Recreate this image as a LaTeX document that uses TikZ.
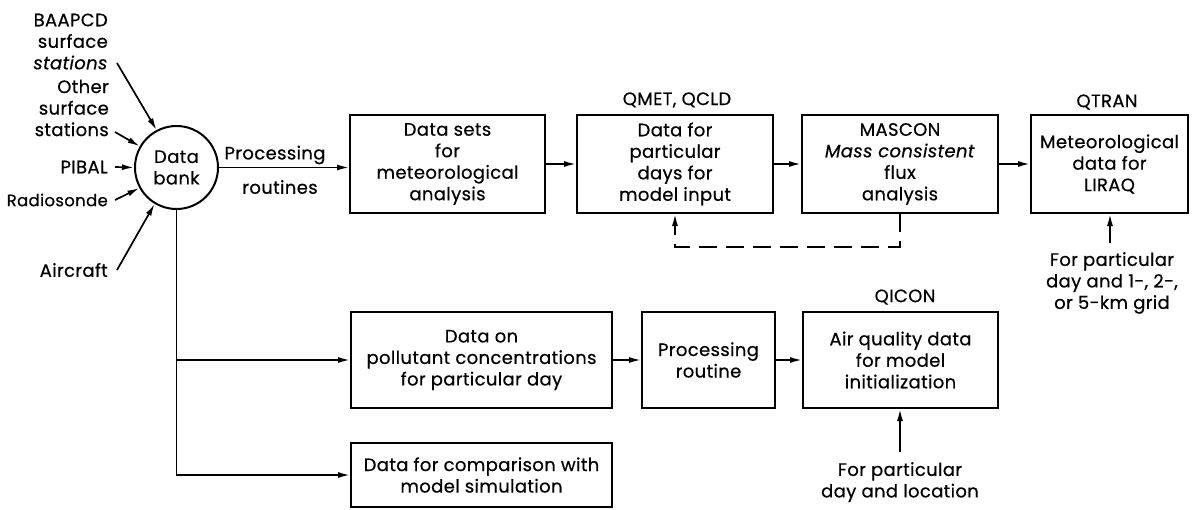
\documentclass[tikz,border=0pt]{standalone}
\usepackage{fontspec}
\setmainfont{Poppins}[LetterSpace=2,FakeBold=0.5]
\usetikzlibrary{arrows.meta}

\begin{document}
\begin{tikzpicture}[x=1pt,y=-1pt,
  every node/.style={font=\fontsize{18}{21.5}\selectfont},
  box/.style={draw, line width=2pt, align=center, inner sep=0pt},
  lbl/.style={align=center, inner sep=0pt},
  arr/.style={line width=1.7pt, -{Latex[length=12pt,width=6pt]}},
]
\useasboundingbox (0,0) rectangle (1192,509);

% central data bank
\node[circle, draw, line width=2pt, minimum size=83pt, inner sep=0pt, align=center]
  (bank) at (176.5,167.5) {Data\\bank};

% data sources
\node[lbl, anchor=east, align=right] (baapcd) at (108,41.5) {BAAPCD\\surface\\\textit{stations}};
\node[lbl, anchor=east, align=right] (other) at (109,108) {Other\\surface\\stations};
\node[lbl, anchor=east] (pibal) at (108,167) {PIBAL};
\node[lbl, anchor=east, font=\fontsize{16.5}{21.5}\selectfont] (radio) at (108,200) {Radiosonde};
\node[lbl, anchor=east] (air) at (108,270) {Aircraft};

\coordinate (s1) at (117,63);
\coordinate (s2) at (115,132);
\coordinate (s3) at (115,167);
\coordinate (s4) at (115,200);
\coordinate (s5) at (117,270);
\draw[arr] (s1) -- (bank.118);
\draw[arr] (s2) -- (bank.150);
\draw[arr] (s3) -- (bank.180);
\draw[arr] (s4) -- (bank.209);
\draw[arr] (s5) -- (bank.239);

% meteorological chain
\node[box, minimum width=195pt, minimum height=98pt] (met) at (447.5,164)
  {Data sets\\for\\meteorological\\analysis};
\node[box, minimum width=196pt, minimum height=98pt] (qmet) at (675,164)
  {Data for\\particular\\days for\\model input};
\node[box, minimum width=196pt, minimum height=98pt] (mascon) at (900,164)
  {MASCON\\\textit{Mass consistent}\\flux\\analysis};
\node[box, minimum width=157pt, minimum height=98pt] (qtran) at (1109.5,164)
  {Meteorological\\data for\\LIRAQ};

\node[lbl] (qmetlbl) at (677,100) {QMET, QCLD};
\node[lbl] (qtranlbl) at (1107,102) {QTRAN};

\draw[arr] (bank.east) -- (bank.east -| met.west);
\node[lbl] (proc1) at (275,155) {Processing};
\node[lbl] (proc2) at (280,187) {routines};

\draw[arr] (met.east) -- (qmet.west);
\draw[arr] (qmet.east) -- (mascon.west);
\draw[arr] (mascon.east) -- (qtran.west);

% iteration loop back from MASCON
\draw[arr, dash pattern=on 18pt off 9pt] (mascon.south) -- ++(0,33) -| (qmet.south);

% grid choice for the transport model
\coordinate (tq) at (1110,243);
\draw[arr] (tq) -- (tq |- qtran.south);
\node[lbl, anchor=north] (tqtext) at (1112,252) {For particular\\day and 1-, 2-,\\or 5-km grid};

% air quality chain
\node[box, minimum width=261pt, minimum height=96pt] (poll) at (481.5,360)
  {Data on\\pollutant concentrations\\for particular day};
\node[box, minimum width=133pt, minimum height=96pt] (proc) at (708.5,360)
  {Processing\\routine};
\node[box, minimum width=195pt, minimum height=96pt] (qicon) at (900.5,360)
  {Air quality data\\for model\\initialization};
\node[lbl] (qiconlbl) at (905,297) {QICON};

\draw[arr] (poll.east) -- (proc.west);
\draw[arr] (proc.east) -- (qicon.west);

\coordinate (ti) at (900,452);
\draw[arr] (ti) -- (ti |- qicon.south);
\node[lbl, anchor=north] (titext) at (900,462) {For particular\\day and location};

% comparison data
\node[box, minimum width=261pt, minimum height=64pt] (cmp) at (481.5,475)
  {Data for comparison with\\model simulation};

% branches from the data bank
\draw[arr] (bank.south) |- (cmp.west);
\draw[arr] (bank.south |- poll.west) -- (poll.west);
\end{tikzpicture}
\end{document}
